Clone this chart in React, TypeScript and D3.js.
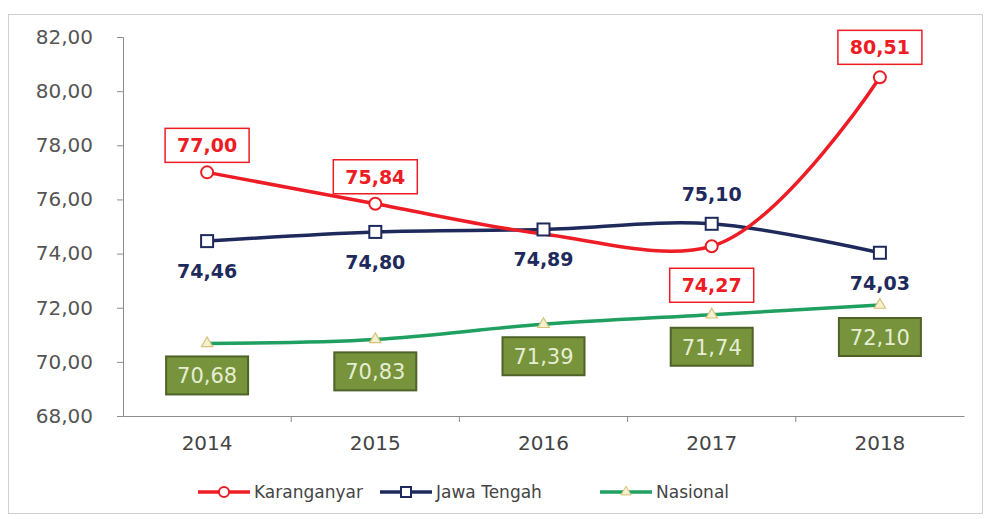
import React, { useEffect, useRef } from 'react';
import * as d3 from 'd3';

const years = ['2014', '2015', '2016', '2017', '2018'];
const karanganyar = [77.0, 75.84, 74.72, 74.27, 80.51];
const karanganyarLabels = ['77,00', '75,84', '', '74,27', '80,51'];
const jawaTengah = [74.46, 74.8, 74.89, 75.1, 74.03];
const nasional = [70.68, 70.83, 71.39, 71.74, 72.1];
const yTicks = [68, 70, 72, 74, 76, 78, 80, 82];

const fmt = (v: number) => v.toFixed(2).replace('.', ',');

const W = 984, H = 519;
const margin = { top: 37, right: 20, bottom: 103, left: 123 };

const RED = '#ee1c25';
const NAVY = '#1f2a5c';
const GREEN = '#1fa060';

export default function App() {
  const ref = useRef<SVGSVGElement | null>(null);

  useEffect(() => {
    if (!ref.current) return;
    const svg = d3.select(ref.current);
    svg.selectAll('*').remove();
    const font = "'DejaVu Sans', sans-serif";

    svg.append('rect').attr('x', 8.5).attr('y', 14.5).attr('width', W - 10).attr('height', H - 20)
      .attr('fill', '#fff').attr('stroke', '#d0d0d0');

    const x = d3.scaleBand().domain(years).range([margin.left, W - margin.right]);
    const y = d3.scaleLinear().domain([68, 82]).range([H - margin.bottom, margin.top]);
    const cx = (d: string) => x(d)! + x.bandwidth() / 2;

    // y axis
    const ya = svg.append('g').attr('transform', `translate(${margin.left},0)`)
      .call(d3.axisLeft(y).tickValues(yTicks).tickSize(6).tickFormat(d => fmt(d as number)));
    ya.select('.domain').attr('stroke', '#8c8c8c');
    ya.selectAll('line').attr('stroke', '#8c8c8c');
    ya.selectAll('text').attr('font-family', font).attr('font-size', 20).attr('fill', '#555').attr('x', -30);

    // x axis
    const xa = svg.append('g').attr('transform', `translate(0,${y(68)})`)
      .call(d3.axisBottom(x).tickSize(0).tickPadding(20));
    xa.select('.domain').attr('stroke', '#8c8c8c');
    xa.selectAll('text').attr('font-family', font).attr('font-size', 20).attr('fill', '#444');
    svg.append('g').selectAll('line').data(years.slice(1)).join('line')
      .attr('x1', d => x(d)!).attr('x2', d => x(d)!)
      .attr('y1', y(68)).attr('y2', y(68) + 6).attr('stroke', '#8c8c8c');

    const line = d3.line<number>().x((_, i) => cx(years[i])).y(d => y(d)).curve(d3.curveCatmullRom.alpha(1));

    const series = [
      { data: nasional, color: GREEN },
      { data: jawaTengah, color: NAVY },
      { data: karanganyar, color: RED },
    ];
    series.forEach(s => {
      svg.append('path').datum(s.data).attr('d', line).attr('fill', 'none')
        .attr('stroke', s.color).attr('stroke-width', 3.5);
    });

    // markers
    svg.append('g').selectAll('path').data(nasional).join('path')
      .attr('transform', (d, i) => `translate(${cx(years[i])},${y(d)})`)
      .attr('d', d3.symbol(d3.symbolTriangle, 55)())
      .attr('fill', '#f4f0d0').attr('stroke', '#d6c17a').attr('stroke-width', 1.2);
    svg.append('g').selectAll('circle').data(karanganyar.filter((_, i) => karanganyarLabels[i]))
      .join('circle')
      .attr('cx', d => cx(years[karanganyar.indexOf(d)])).attr('cy', d => y(d)).attr('r', 6)
      .attr('fill', '#fff').attr('stroke', RED).attr('stroke-width', 2);
    svg.append('g').selectAll('rect').data(jawaTengah).join('rect')
      .attr('x', (d, i) => cx(years[i]) - 6).attr('y', d => y(d) - 6)
      .attr('width', 12).attr('height', 12).attr('fill', '#fff').attr('stroke', NAVY).attr('stroke-width', 2);

    // Karanganyar labels
    const kOffset = [-27, -27, 0, 39, -30];
    karanganyar.forEach((v, i) => {
      if (!karanganyarLabels[i]) return;
      const px = cx(years[i]);
      const py = y(v) + kOffset[i];
      svg.append('rect').attr('x', px - 42).attr('y', py - 17).attr('width', 84).attr('height', 34)
        .attr('fill', '#fff').attr('stroke', RED).attr('stroke-width', 1.5);
      svg.append('text').attr('x', px).attr('y', py + 7).attr('text-anchor', 'middle')
        .attr('font-family', font).attr('font-weight', 'bold').attr('font-size', 19).attr('fill', RED)
        .text(karanganyarLabels[i]);
    });

    // Jawa Tengah labels
    const jAbove = [false, false, false, true, false];
    jawaTengah.forEach((v, i) => {
      const px = cx(years[i]);
      const py = jAbove[i] ? y(v) - 30 : y(v) + 30;
      svg.append('text').attr('x', px).attr('y', py + 7).attr('text-anchor', 'middle')
        .attr('font-family', font).attr('font-weight', 'bold').attr('font-size', 19).attr('fill', NAVY)
        .text(fmt(v));
    });

    // Nasional labels
    nasional.forEach((v, i) => {
      const px = cx(years[i]);
      const py = y(v) + 32;
      svg.append('rect').attr('x', px - 41).attr('y', py - 19).attr('width', 82).attr('height', 38)
        .attr('fill', '#77933c').attr('stroke', '#4f6228').attr('stroke-width', 2);
      svg.append('text').attr('x', px).attr('y', py + 8).attr('text-anchor', 'middle')
        .attr('font-family', font).attr('font-size', 21).attr('fill', '#e6eed2')
        .text(fmt(v));
    });

    // legend
    const legend = [
      { name: 'Karanganyar', color: RED, x: 198, kind: 'circle' },
      { name: 'Jawa Tengah', color: NAVY, x: 380, kind: 'square' },
      { name: 'Nasional', color: GREEN, x: 600, kind: 'tri' },
    ];
    const ly = 492;
    legend.forEach(l => {
      const g = svg.append('g');
      g.append('line').attr('x1', l.x).attr('x2', l.x + 52).attr('y1', ly).attr('y2', ly)
        .attr('stroke', l.color).attr('stroke-width', 3.5);
      const mx = l.x + 26;
      if (l.kind === 'circle') {
        g.append('circle').attr('cx', mx).attr('cy', ly).attr('r', 5).attr('fill', '#fff').attr('stroke', l.color).attr('stroke-width', 2);
      } else if (l.kind === 'square') {
        g.append('rect').attr('x', mx - 5).attr('y', ly - 5).attr('width', 10).attr('height', 10).attr('fill', '#fff').attr('stroke', l.color).attr('stroke-width', 2);
      } else {
        g.append('path').attr('transform', `translate(${mx},${ly})`).attr('d', d3.symbol(d3.symbolTriangle, 45)())
          .attr('fill', '#f4f0d0').attr('stroke', '#d6c17a');
      }
      g.append('text').attr('x', l.x + 56).attr('y', ly + 6).attr('font-family', font)
        .attr('font-size', 17).attr('fill', '#444').text(l.name);
    });
  }, []);

  return (
    <svg ref={ref} width={W} height={H} style={{ position: 'absolute', left: 0, top: 0, display: 'block' }} />
  );
}
